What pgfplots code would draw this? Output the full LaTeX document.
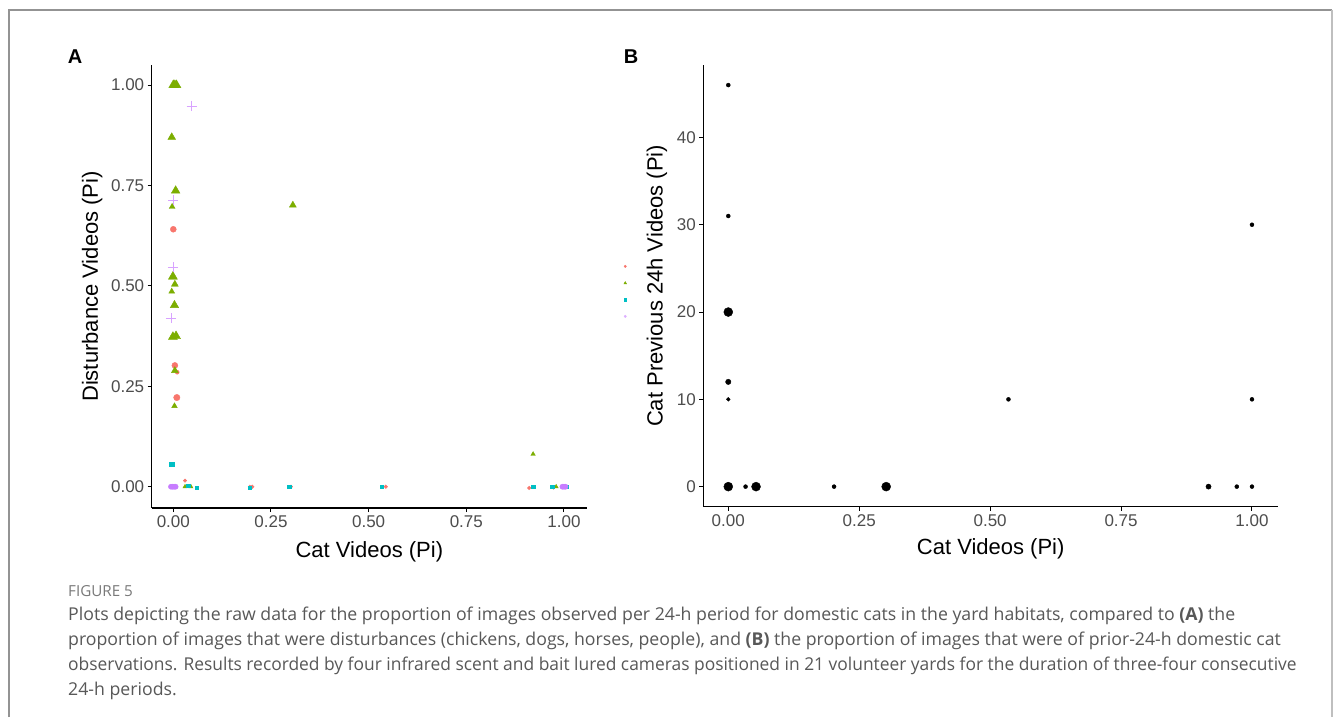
\documentclass[border=0pt]{standalone}
\usepackage{pgfplots}
\pgfplotsset{compat=1.18}
\usepackage{fontspec}
\setmainfont{Liberation Sans}
\newfontfamily\capfont{Open Sans}
\definecolor{cRed}{HTML}{F8766D}
\definecolor{cGreen}{HTML}{7CAE00}
\definecolor{cCyan}{HTML}{00BFC4}
\definecolor{cPurple}{HTML}{C77CFF}
\definecolor{tickgray}{HTML}{4D4D4D}
\definecolor{capgray}{HTML}{585858}

\pgfplotsset{
  ggclassic/.style={
    scale only axis, anchor=south west, clip=false,
    axis x line*=bottom, axis y line*=left,
    axis line style={black, line width=1.2pt, -},
    tick align=outside, major tick length=4pt,
    tick style={black, line width=1pt},
    /pgf/number format/assume math mode=true,
    ticklabel style={font=\fontsize{17}{19}\selectfont, text=tickgray},
    label style={font=\fontsize{22}{25}\selectfont, text=black},
  },
  sizedscatter/.style={
    scatter, only marks,
    scatter/use mapped color={draw=#1, fill=#1},
    visualization depends on={\thisrow{s} \as \perpointmarksize},
    scatter/@pre marker code/.append style={/tikz/mark size=\perpointmarksize},
  },
}

\pgfplotstableread{
x y s
0.000 0.641 3.0
0.004 0.302 3.0
0.010 0.285 2.0
0.009 0.222 3.2
0.030 0.015 1.7
0.196 0.000 1.8
0.202 0.000 1.8
0.301 0.000 1.8
0.544 0.000 1.8
0.911 -0.003 1.8
0.973 -0.002 1.8
}\redA

\pgfplotstableread{
x y s
0.000 1.000 5.2
0.004 1.000 5.2
0.008 1.000 5.2
-0.004 0.870 4.5
0.006 0.737 5.0
-0.003 0.697 3.4
0.306 0.701 4.0
-0.001 0.523 5.2
0.004 0.504 4.0
-0.004 0.486 3.4
0.003 0.452 4.8
-0.001 0.373 5.2
0.007 0.375 5.2
0.004 0.289 4.0
0.003 0.201 3.2
0.030 0.000 2.4
0.045 0.000 2.4
0.921 0.081 2.6
0.980 0.000 2.4
}\greenA

\pgfplotstableread{
x y s
-0.004 0.0565 2.3
0.038 0.003 1.7
0.060 -0.002 1.7
0.196 -0.002 1.7
0.297 0.000 1.7
0.533 0.000 1.7
0.921 0.000 1.7
0.970 0.000 1.7
1.007 0.000 1.7
}\cyanA

\pgfplotstableread{
x y s
0.047 0.948 5.0
0.000 0.714 5.0
-0.001 0.546 5.0
-0.006 0.419 5.0
}\purplePlusA

\pgfplotstableread{
x y s
-0.006 0.000 2.6
-0.002 0.000 2.6
0.002 0.000 2.6
0.006 0.000 2.6
0.996 0.000 2.6
1.000 0.000 2.6
1.004 0.000 2.6
}\purpleBlobA

\pgfplotstableread{
x y s
0.000 46 2.0
0.000 31 2.0
0.000 20 4.5
0.000 12 2.7
0.000 10 1.9
0.000 0 4.5
0.033 0 2.0
0.053 0 4.5
0.202 0 2.0
0.3015 0 4.5
0.535 10 2.0
0.917 0 2.6
0.971 0 2.0
1.000 0 2.0
1.000 10 2.0
1.000 30 2.0
}\blackB

\begin{document}
\begin{tikzpicture}
\path[use as bounding box] (0pt,0pt) rectangle (1335pt,-717pt);
\fill[white] (0pt,0pt) rectangle (1335pt,-717pt);
% frame
\draw[color=gray!85, line width=1.5pt] (9pt,-717pt) -- (9pt,-10pt) -- (1332pt,-10pt);
\draw[color=gray!50, line width=2pt] (1332pt,-10pt) -- (1332pt,-717pt);

% Panel A
\begin{axis}[ggclassic,
  at={(151.7pt,-508pt)}, width=435.3pt, height=443pt,
  xmin=-0.0553, xmax=1.059, ymin=-0.053, ymax=1.05,
  xtick={0,0.25,0.5,0.75,1}, xticklabels={0.00,0.25,0.50,0.75,1.00},
  ytick={0,0.25,0.5,0.75,1}, yticklabels={0.00,0.25,0.50,0.75,1.00},
  xlabel={Cat Videos (Pi)}, ylabel={Disturbance Videos (Pi)},
  xlabel style={at={(axis description cs:0.5,-0.099)}, anchor=center},
  ylabel style={at={(axis description cs:-0.137,0.5)}, anchor=center},
  legend style={at={(axis description cs:1.089,0.489)}, anchor=center,
    draw=none, fill=none, row sep=7pt, nodes={inner sep=0pt},
    legend image code/.code={\draw[#1] plot coordinates {(0pt,0pt)};}},
]
\addlegendimage{only marks, mark=*, mark size=1.2, color=cRed}
\addlegendentry{\rule[-8.15pt]{0pt}{16.3pt}}
\addlegendimage{only marks, mark=triangle*, mark size=1.5, color=cGreen}
\addlegendentry{\rule[-8.15pt]{0pt}{16.3pt}}
\addlegendimage{only marks, mark=square*, mark size=1.1, color=cCyan}
\addlegendentry{\rule[-8.15pt]{0pt}{16.3pt}}
\addlegendimage{only marks, mark=*, mark size=1.2, color=cPurple!60}
\addlegendentry{\rule[-8.15pt]{0pt}{16.3pt}}

\addplot[mark=*, sizedscatter=cRed] table {\redA};
\addplot[mark=triangle*, sizedscatter=cGreen] table {\greenA};
\addplot[mark=square*, sizedscatter=cCyan] table {\cyanA};
\addplot[mark=+, mark options={line width=0.6pt}, sizedscatter=cPurple!70] table {\purplePlusA};
\addplot[mark=*, sizedscatter=cPurple] table {\purpleBlobA};
\end{axis}

% Panel B
\begin{axis}[ggclassic,
  at={(703.4pt,-506.7pt)}, width=574.6pt, height=441.7pt,
  xmin=-0.0475, xmax=1.0497, ymin=-2.3, ymax=48.3,
  xtick={0,0.25,0.5,0.75,1}, xticklabels={0.00,0.25,0.50,0.75,1.00},
  ytick={0,10,20,30,40},
  xlabel={Cat Videos (Pi)}, ylabel={Cat Previous 24h Videos (Pi)},
  xlabel style={at={(axis description cs:0.5,-0.0945)}, anchor=center},
  ylabel style={at={(axis description cs:-0.0808,0.5)}, anchor=center},
]
\addplot[mark=*, sizedscatter=black] table {\blackB};
\end{axis}

% panel letters
\node[font=\fontsize{20}{22}\selectfont\bfseries] at (75pt,-57pt) {A};
\node[font=\fontsize{20}{22}\selectfont\bfseries] at (631pt,-57pt) {B};

% caption
\begin{scope}[every node/.style={anchor=base west, inner sep=0pt, text=capgray}]
\node[font=\capfont\fontsize{15.2}{17}\selectfont, text=gray!95!black] at (68pt,-596pt) {FIGURE 5};
\node[font=\capfont\fontsize{17.7}{20}\selectfont] at (68pt,-620pt) {Plots depicting the raw data for the proportion of images observed per 24-h period for domestic cats in the yard habitats, compared to \textbf{(A)} the};
\node[font=\capfont\fontsize{17.7}{20}\selectfont] at (68pt,-645pt) {proportion of images that were disturbances (chickens, dogs, horses, people), and \textbf{(B)} the proportion of images that were of prior-24-h domestic cat};
\node[font=\capfont\fontsize{17.7}{20}\selectfont] at (68pt,-670pt) {\scalebox{0.983}[1]{observations. Results recorded by four infrared scent and bait lured cameras positioned in 21 volunteer yards for the duration of three-four consecutive}};
\node[font=\capfont\fontsize{17.7}{20}\selectfont] at (68pt,-695pt) {24-h periods.};
\end{scope}
\end{tikzpicture}
\end{document}
